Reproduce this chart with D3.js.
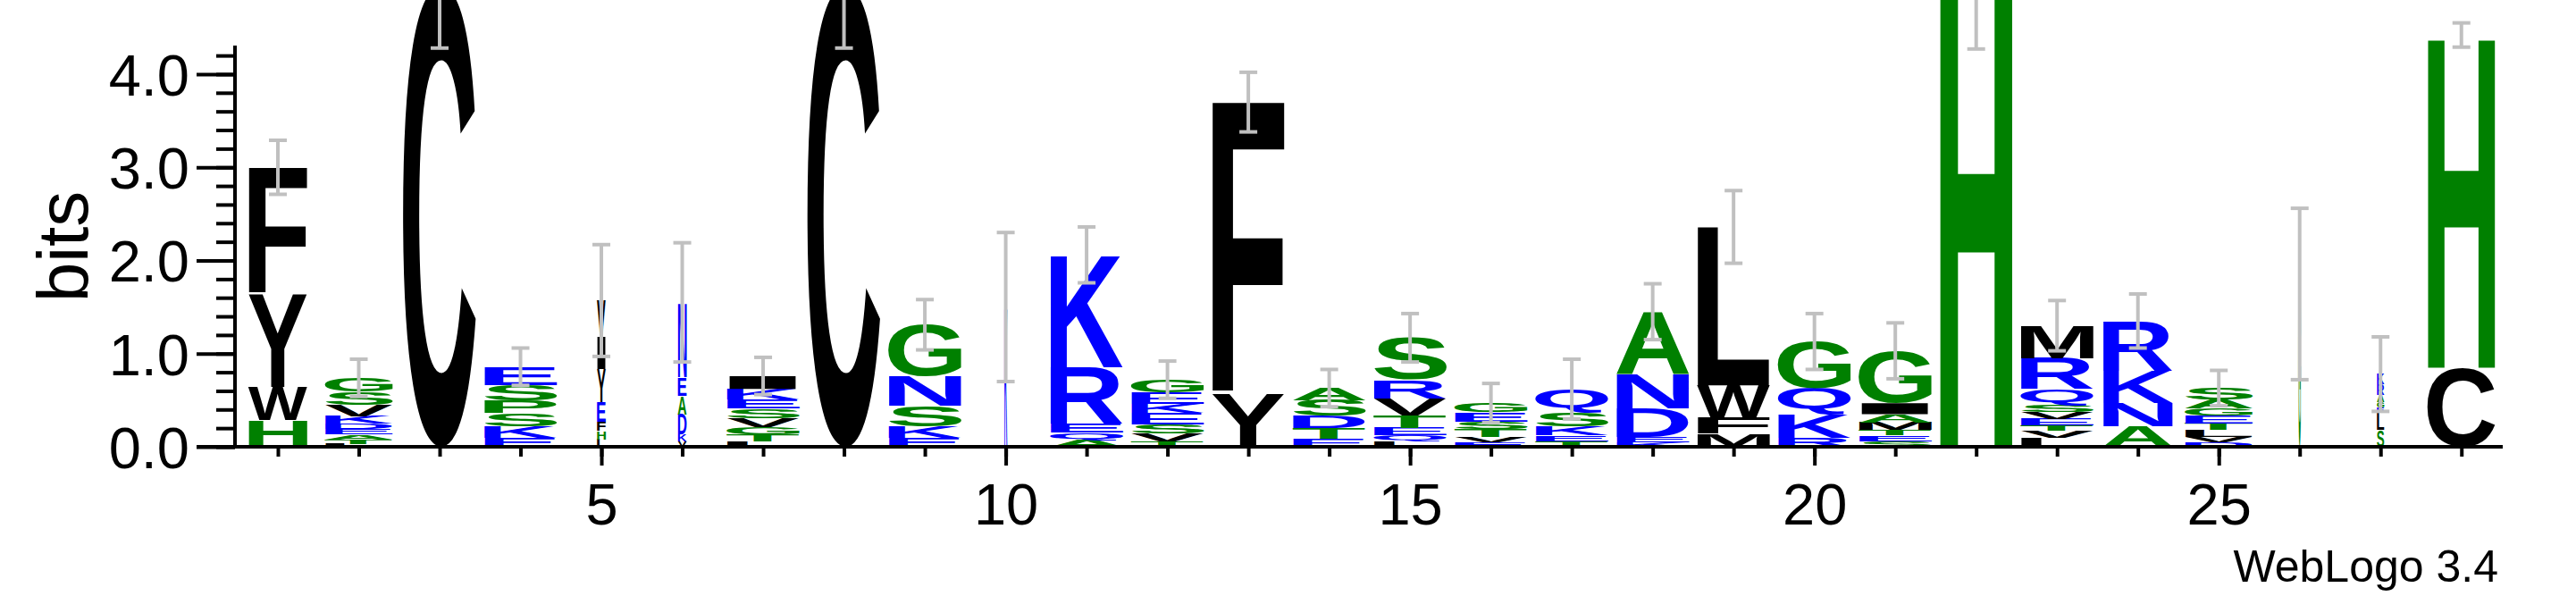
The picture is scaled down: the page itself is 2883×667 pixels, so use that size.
<!DOCTYPE html>
<html>
<head>
<meta charset="utf-8">
<script src="https://cdn.jsdelivr.net/npm/d3@7"></script>
<style>
  body { margin: 0; background: #fff; }
  svg { display: block; font-family: "Liberation Sans", Arial, sans-serif; }
</style>
</head>
<body>
<svg id="logo" width="2883" height="667"></svg>
<script>
// sequence logo data, each stack listed bottom -> top
var positions = d3.range(1, 29);
var columnLetters = [
  "HWYF", "LTAEDKVSG", "C", "EKSPSE", "LHFEYIV", "VKDAEN", "LTGVSEKI", "C",
  "EKSNG", "K", "AQERK", "TVSEKEG", "YF", "ETDSA", "LQETVRS", "EVTSEG",
  "TEKSQ", "KEDNA", "MFWL", "RKQG", "SETMAIG", "H", "LVTEVSQRM", "ANKR",
  "DVLTEGAS", "G", "SLEGARK", "CH"
];
var columnBits = [
  [0.29, 0.35, 1.0, 1.36],
  [0.03, 0.05, 0.05, 0.06, 0.06, 0.08, 0.12, 0.14, 0.15],
  [4.95],
  [0.1, 0.12, 0.14, 0.14, 0.16, 0.2],
  [0.08, 0.09, 0.1, 0.21, 0.35, 0.35, 0.39],
  [0.06, 0.07, 0.22, 0.2, 0.2, 0.8],
  [0.06, 0.07, 0.08, 0.1, 0.1, 0.1, 0.11, 0.14],
  [4.95],
  [0.1, 0.12, 0.22, 0.32, 0.55],
  [1.5],
  [0.07, 0.08, 0.1, 0.6, 1.21],
  [0.06, 0.08, 0.1, 0.12, 0.1, 0.12, 0.14],
  [0.56, 3.14],
  [0.09, 0.11, 0.13, 0.17, 0.13],
  [0.06, 0.06, 0.08, 0.14, 0.18, 0.2, 0.45],
  [0.05, 0.06, 0.08, 0.08, 0.1, 0.1],
  [0.06, 0.06, 0.1, 0.15, 0.25, 0.66],
  [0.05, 0.06, 0.3, 0.37, 0.67],
  [0.14, 0.17, 0.35, 1.7],
  [0.1, 0.25, 0.28, 0.5],
  [0.06, 0.06, 0.06, 0.08, 0.09, 0.12, 0.56],
  [4.95],
  [0.1, 0.07, 0.06, 0.07, 0.07, 0.07, 0.18, 0.33, 0.35],
  [0.22, 0.25, 0.35, 0.53],
  [0.05, 0.06, 0.07, 0.07, 0.08, 0.08, 0.1, 0.12],
  [1.64],
  [0.18, 0.18, 0.06, 0.06, 0.08, 0.11, 0.11],
  [0.85, 3.57]
];
var columnWidth = [0.81, 0.93, 1, 1, 0.12, 0.12, 1, 1, 1, 0.04, 1, 1, 1, 1, 1, 1, 1, 1, 1, 1, 1, 1, 1, 0.96, 0.93, 0.03, 0.1, 0.93];
var errorHalf = [0.29, 0.2, 0.67, 0.2, 0.6, 0.64, 0.2, 0.67, 0.27, 0.8, 0.3, 0.2, 0.32, 0.2, 0.26, 0.21, 0.32, 0.3, 0.39, 0.3, 0.3, 0.68, 0.27, 0.29, 0.19, 0.92, 0.4, 0.13];
var yTicks = [0, 1, 2, 3, 4];
var xTickLabels = [5, 10, 15, 20, 25];

var colorOf = function(a) {
  if ("RKDENQ".indexOf(a) >= 0) return "#0000ff";
  if ("SGHTAP".indexOf(a) >= 0) return "#008000";
  return "#000000";
};

var svg = d3.select("#logo");
var x = d3.scaleLinear().domain([0.5, 28.5]).range([265.75, 2800]);
var y = d3.scaleLinear().domain([0, 4.3]).range([500, 51.7]);
var stackW = 82;

// measure real glyph ink with canvas so letters fill their box
var ctx = document.createElement("canvas").getContext("2d");
var glyphFont = "bold 100px 'Liberation Sans', Arial, sans-serif";
ctx.font = glyphFont;
var inkBox = {};
function ink(a) {
  if (!inkBox[a]) {
    var m = ctx.measureText(a);
    inkBox[a] = { x: -m.actualBoundingBoxLeft, y: -m.actualBoundingBoxAscent,
      w: m.actualBoundingBoxLeft + m.actualBoundingBoxRight,
      h: m.actualBoundingBoxAscent + m.actualBoundingBoxDescent };
  }
  return inkBox[a];
}

var glyphs = [];
var tops = [];
positions.forEach(function(p, i) {
  var base = 0;
  var w = stackW * columnWidth[i];
  columnLetters[i].split("").forEach(function(a, j) {
    var h = columnBits[i][j];
    glyphs.push({ a: a, x0: x(p) - w / 2, w: w, y0: y(base + h), h: y(base) - y(base + h) });
    base += h;
  });
  tops.push({ p: p, top: base, e: errorHalf[i] });
});

var g = svg.append("g");
g.selectAll("text.glyph")
  .data(glyphs)
  .enter()
  .append("text")
  .attr("class", "glyph")
  .style("font", glyphFont)
  .attr("fill", function(d) { return colorOf(d.a); })
  .attr("transform", function(d) {
    var b = ink(d.a);
    return "translate(" + d.x0 + "," + d.y0 + ") scale(" + (d.w / b.w) + "," + (d.h / b.h) + ") translate(" + (-b.x) + "," + (-b.y) + ")";
  })
  .text(function(d) { return d.a; });

// error bars
var eb = svg.append("g").attr("stroke", "#c0c0c0").attr("stroke-width", 4);
eb.selectAll("line.bar").data(tops).enter().append("line")
  .attr("x1", function(d) { return x(d.p); }).attr("x2", function(d) { return x(d.p); })
  .attr("y1", function(d) { return y(d.top + d.e); }).attr("y2", function(d) { return y(d.top - d.e); });
[1, -1].forEach(function(s) {
  eb.selectAll("line.cap" + s).data(tops).enter().append("line")
    .attr("x1", function(d) { return x(d.p) - 10; }).attr("x2", function(d) { return x(d.p) + 10; })
    .attr("y1", function(d) { return y(d.top + s * d.e); }).attr("y2", function(d) { return y(d.top + s * d.e); });
});

// y axis
var yAxis = svg.append("g").attr("transform", "translate(263,0)");
yAxis.call(d3.axisLeft(y).tickValues(d3.range(0, 4.21, 0.2)).tickSize(21).tickFormat(""));
yAxis.selectAll(".tick line").attr("stroke-width", 4);
yAxis.select(".domain").attr("d", "M0,51V500").attr("stroke-width", 4);
var yMajor = svg.append("g").attr("transform", "translate(263,0)");
yMajor.call(d3.axisLeft(y).tickValues(yTicks).tickSize(43).tickPadding(8).tickFormat(d3.format(".1f")));
yMajor.select(".domain").remove();
yMajor.selectAll(".tick line").attr("stroke-width", 4);
yMajor.selectAll(".tick text").style("font-size", "65px").attr("fill", "#000").attr("dy", "0.36em");

// x axis
var xAxis = svg.append("g").attr("transform", "translate(0,500)");
xAxis.call(d3.axisBottom(x).tickValues(positions).tickSize(11).tickFormat(""));
xAxis.select(".domain").attr("d", "M220,0H2801").attr("stroke-width", 4);
xAxis.selectAll(".tick line").attr("stroke-width", 4);
var xMajor = svg.append("g").attr("transform", "translate(0,500)");
xMajor.call(d3.axisBottom(x).tickValues(xTickLabels).tickSize(21).tickPadding(20));
xMajor.select(".domain").remove();
xMajor.selectAll(".tick line").attr("stroke-width", 4);
xMajor.selectAll(".tick text").style("font-size", "65px").attr("fill", "#000");

svg.append("text")
  .attr("transform", "translate(98,276) rotate(-90)")
  .attr("text-anchor", "middle")
  .style("font-size", "80px")
  .text("bits");

svg.append("text")
  .attr("x", 2796).attr("y", 651)
  .attr("text-anchor", "end")
  .style("font-size", "50px")
  .text("WebLogo 3.4");
</script>
</body>
</html>
